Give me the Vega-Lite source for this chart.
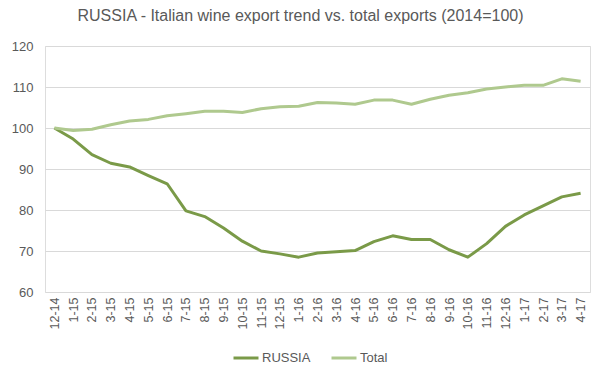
{
  "$schema": "https://vega.github.io/schema/vega-lite/v6.json",
  "width": 545,
  "height": 246,
  "autosize": {"type": "none"},
  "padding": {"left": 45, "top": 46, "right": 10, "bottom": 86},
  "background": "white",
  "title": {
    "text": "RUSSIA - Italian wine export trend vs. total exports (2014=100)",
    "font": "Liberation Sans",
    "fontSize": 16,
    "fontWeight": "normal",
    "color": "#595959",
    "anchor": "middle",
    "dx": -17,
    "offset": 16
  },
  "data": {
    "values": [
      {"month": "12-14", "series": "RUSSIA", "value": 100},
      {"month": "1-15", "series": "RUSSIA", "value": 97.3},
      {"month": "2-15", "series": "RUSSIA", "value": 93.5},
      {"month": "3-15", "series": "RUSSIA", "value": 91.4},
      {"month": "4-15", "series": "RUSSIA", "value": 90.5},
      {"month": "5-15", "series": "RUSSIA", "value": 88.4},
      {"month": "6-15", "series": "RUSSIA", "value": 86.4},
      {"month": "7-15", "series": "RUSSIA", "value": 79.8},
      {"month": "8-15", "series": "RUSSIA", "value": 78.4},
      {"month": "9-15", "series": "RUSSIA", "value": 75.6},
      {"month": "10-15", "series": "RUSSIA", "value": 72.4},
      {"month": "11-15", "series": "RUSSIA", "value": 70},
      {"month": "12-15", "series": "RUSSIA", "value": 69.3},
      {"month": "1-16", "series": "RUSSIA", "value": 68.5},
      {"month": "2-16", "series": "RUSSIA", "value": 69.5},
      {"month": "3-16", "series": "RUSSIA", "value": 69.8},
      {"month": "4-16", "series": "RUSSIA", "value": 70.1},
      {"month": "5-16", "series": "RUSSIA", "value": 72.3},
      {"month": "6-16", "series": "RUSSIA", "value": 73.7},
      {"month": "7-16", "series": "RUSSIA", "value": 72.8},
      {"month": "8-16", "series": "RUSSIA", "value": 72.8},
      {"month": "9-16", "series": "RUSSIA", "value": 70.3},
      {"month": "10-16", "series": "RUSSIA", "value": 68.5},
      {"month": "11-16", "series": "RUSSIA", "value": 71.8},
      {"month": "12-16", "series": "RUSSIA", "value": 76},
      {"month": "1-17", "series": "RUSSIA", "value": 78.8},
      {"month": "2-17", "series": "RUSSIA", "value": 81},
      {"month": "3-17", "series": "RUSSIA", "value": 83.2},
      {"month": "4-17", "series": "RUSSIA", "value": 84.1},
      {"month": "12-14", "series": "Total", "value": 100},
      {"month": "1-15", "series": "Total", "value": 99.4},
      {"month": "2-15", "series": "Total", "value": 99.7},
      {"month": "3-15", "series": "Total", "value": 100.8},
      {"month": "4-15", "series": "Total", "value": 101.7},
      {"month": "5-15", "series": "Total", "value": 102.1},
      {"month": "6-15", "series": "Total", "value": 103},
      {"month": "7-15", "series": "Total", "value": 103.5},
      {"month": "8-15", "series": "Total", "value": 104.1},
      {"month": "9-15", "series": "Total", "value": 104.1},
      {"month": "10-15", "series": "Total", "value": 103.8},
      {"month": "11-15", "series": "Total", "value": 104.7},
      {"month": "12-15", "series": "Total", "value": 105.2},
      {"month": "1-16", "series": "Total", "value": 105.3},
      {"month": "2-16", "series": "Total", "value": 106.2},
      {"month": "3-16", "series": "Total", "value": 106.1},
      {"month": "4-16", "series": "Total", "value": 105.8},
      {"month": "5-16", "series": "Total", "value": 106.8},
      {"month": "6-16", "series": "Total", "value": 106.8},
      {"month": "7-16", "series": "Total", "value": 105.8},
      {"month": "8-16", "series": "Total", "value": 107},
      {"month": "9-16", "series": "Total", "value": 108},
      {"month": "10-16", "series": "Total", "value": 108.6},
      {"month": "11-16", "series": "Total", "value": 109.5},
      {"month": "12-16", "series": "Total", "value": 110},
      {"month": "1-17", "series": "Total", "value": 110.4},
      {"month": "2-17", "series": "Total", "value": 110.4},
      {"month": "3-17", "series": "Total", "value": 112},
      {"month": "4-17", "series": "Total", "value": 111.4}
    ]
  },
  "mark": {"type": "line", "strokeWidth": 3, "strokeJoin": "round"},
  "encoding": {
    "x": {
      "field": "month",
      "type": "ordinal",
      "sort": null,
      "scale": {"type": "point", "padding": 0.5},
      "axis": {
        "title": null,
        "labelAngle": -90,
        "labelFont": "Liberation Sans",
        "labelFontSize": 12.5,
        "labelColor": "#595959",
        "labelPadding": 5,
        "domain": false,
        "ticks": false,
        "grid": false
      }
    },
    "y": {
      "field": "value",
      "type": "quantitative",
      "scale": {"domain": [60, 120], "nice": false, "zero": false},
      "axis": {
        "title": null,
        "values": [60, 70, 80, 90, 100, 110, 120],
        "labelFont": "Liberation Sans",
        "labelFontSize": 13,
        "labelColor": "#595959",
        "labelPadding": 12,
        "domain": false,
        "ticks": false,
        "gridColor": "#d9d9d9",
        "gridWidth": 1
      }
    },
    "color": {
      "field": "series",
      "type": "nominal",
      "scale": {"domain": ["RUSSIA", "Total"], "range": ["#7A9A48", "#AFC98E"]},
      "legend": {
        "title": null,
        "orient": "none",
        "legendX": 187,
        "legendY": 298,
        "direction": "horizontal",
        "symbolType": "stroke",
        "symbolSize": 625,
        "symbolStrokeWidth": 3,
        "labelFont": "Liberation Sans",
        "labelFontSize": 13,
        "labelColor": "#595959",
        "labelOffset": 2,
        "columnPadding": 14
      }
    }
  }
}
